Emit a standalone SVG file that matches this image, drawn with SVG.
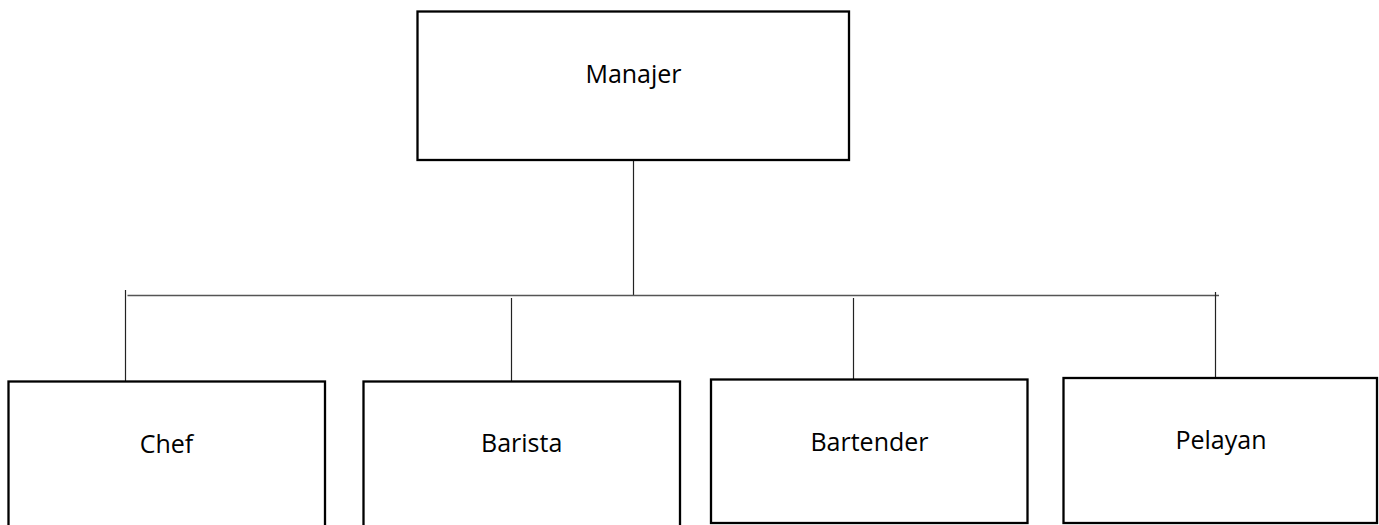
<svg xmlns="http://www.w3.org/2000/svg" width="1379" height="525" viewBox="0 0 1379 525">
<style>
.box{fill:#fff;stroke:#000;stroke-width:2.3}
.lbl{font-family:"Open Sans","Noto Sans",sans-serif;font-size:25px;fill:#000;text-anchor:middle}
.ln{stroke:#222;stroke-width:1.2;fill:none}
.hl{stroke:#555;stroke-width:1.4;fill:none}
</style>
<rect width="1379" height="525" fill="#fff"/>
<g id="connectors">
<line class="ln" x1="633.5" y1="160" x2="633.5" y2="295.5"/>
<line class="hl" x1="127.5" y1="295.5" x2="1219" y2="295.5"/>
<line class="ln" x1="125.5" y1="290" x2="125.5" y2="381"/>
<line class="ln" x1="511.5" y1="298" x2="511.5" y2="381"/>
<line class="ln" x1="853.5" y1="298" x2="853.5" y2="379"/>
<line class="ln" x1="1215.5" y1="292" x2="1215.5" y2="378"/>
</g>
<g id="manajer">
<rect class="box" x="417.5" y="11.5" width="431.5" height="148.5"/>
<text class="lbl" x="633.5" y="83.3">Manajer</text>
</g>
<g id="chef">
<rect class="box" x="8.5" y="381.5" width="316.5" height="160"/>
<text class="lbl" x="166.5" y="453.3">Chef</text>
</g>
<g id="barista">
<rect class="box" x="363.5" y="381.5" width="316.5" height="160"/>
<text class="lbl" x="521.7" y="452.3">Barista</text>
</g>
<g id="bartender">
<rect class="box" x="711" y="379.5" width="316.5" height="143.5"/>
<text class="lbl" x="869.5" y="451">Bartender</text>
</g>
<g id="pelayan">
<rect class="box" x="1063.5" y="378" width="313.5" height="145"/>
<text class="lbl" x="1221" y="449.3">Pelayan</text>
</g>
</svg>
